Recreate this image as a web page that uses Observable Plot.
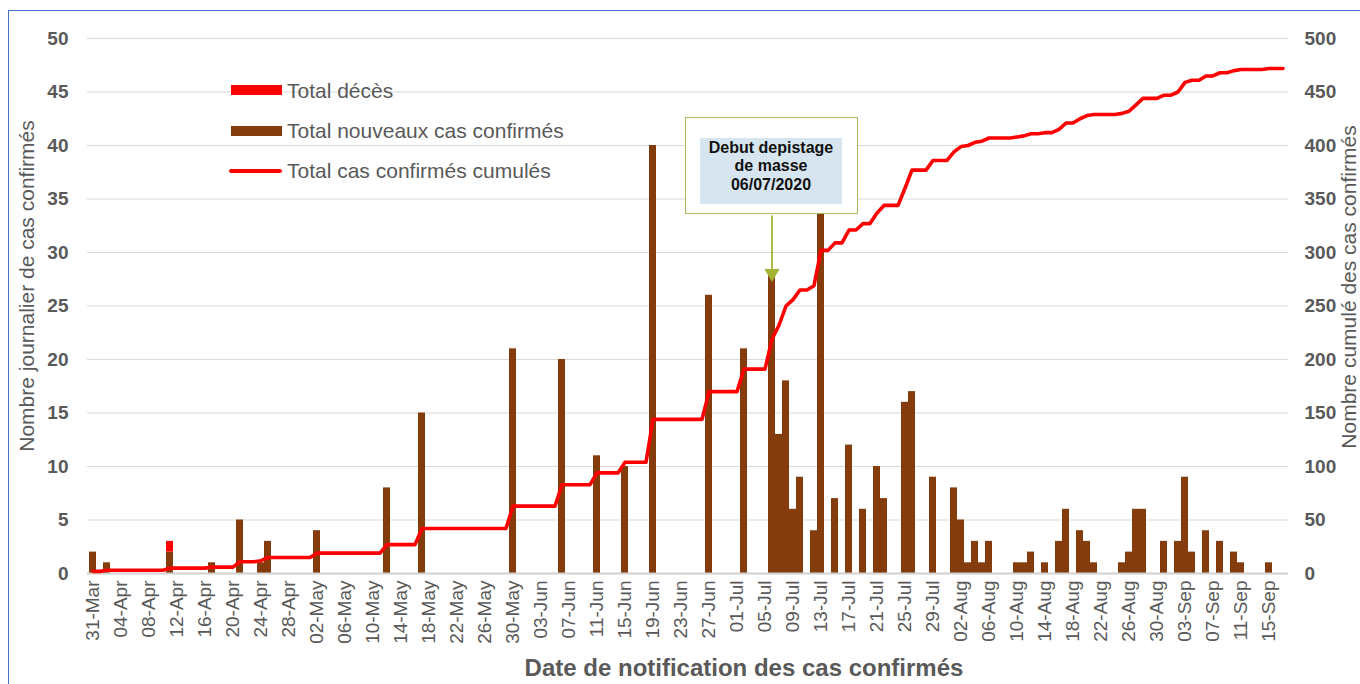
<!DOCTYPE html>
<html><head><meta charset="utf-8">
<script src="https://cdn.jsdelivr.net/npm/d3@7"></script>
<script src="https://cdn.jsdelivr.net/npm/@observablehq/plot@0.6"></script>
<style>
body{margin:0;background:#fff;font-family:"Liberation Sans",Arial,sans-serif;}
#wrap{position:relative;width:1360px;height:684px;overflow:hidden;background:#fff;}
.ov{position:absolute;}
.frame{left:8px;top:10px;width:1400px;height:800px;border-left:1.5px solid #4472c4;border-top:1.5px solid #4472c4;}
.leg{position:absolute;left:287px;font-size:21px;color:#595959;line-height:24px;white-space:nowrap;}
.ytitle{position:absolute;font-size:21px;color:#595959;white-space:nowrap;transform:translate(-50%,-50%) rotate(-90deg);line-height:24px;}
.xtitle{position:absolute;font-size:24px;font-weight:bold;color:#595959;white-space:nowrap;transform:translate(-50%,-50%);}
.box{left:685px;top:117px;width:171px;height:95px;border:1.3px solid #a9bd5e;background:#fff;}
.inner{left:700px;top:137.5px;width:142px;height:66px;background:#d6e5ef;}
.btext{left:700px;top:138.5px;width:142px;text-align:center;font-weight:bold;font-size:16px;line-height:18.5px;color:#111;}
</style></head><body><div id="wrap"></div>
<script>
// ---- Data ----
const startDate = "2020-03-31";
const endDate = "2020-09-18"; // exclusive: last category is 2020-09-17

const caseDates = [
  "2020-03-31","2020-04-02","2020-04-11","2020-04-17","2020-04-21","2020-04-24","2020-04-25",
  "2020-05-02","2020-05-12","2020-05-17","2020-05-30","2020-06-06","2020-06-11","2020-06-15",
  "2020-06-19","2020-06-27","2020-07-02","2020-07-06","2020-07-07","2020-07-08","2020-07-09",
  "2020-07-10","2020-07-12","2020-07-13","2020-07-15","2020-07-17","2020-07-19","2020-07-21",
  "2020-07-22","2020-07-25","2020-07-26","2020-07-29","2020-08-01","2020-08-02","2020-08-03",
  "2020-08-04","2020-08-05","2020-08-06","2020-08-10","2020-08-11","2020-08-12","2020-08-14",
  "2020-08-16","2020-08-17","2020-08-19","2020-08-20","2020-08-21","2020-08-25","2020-08-26",
  "2020-08-27","2020-08-28","2020-08-31","2020-09-02","2020-09-03","2020-09-04","2020-09-06",
  "2020-09-08","2020-09-10","2020-09-11","2020-09-15"
];
const caseCounts = [
  2,1,2,1,5,1,3,
  4,8,15,21,20,11,10,
  40,26,21,28,13,18,6,
  9,4,34,7,12,6,10,
  7,16,17,9,8,5,1,
  3,1,3,1,1,2,1,
  3,6,4,3,1,1,2,
  6,6,3,3,9,2,4,
  3,2,1,1
];
const deathDates = ["2020-04-11"];
const deathCounts = [1];

// cumulative confirmed cases, one value per day from 2020-03-31 to 2020-09-17
const cumulative = [
  2,2,3,3,3,3,3,3,3,3,
  3,5,5,5,5,5,5,6,6,6,
  6,11,11,11,12,15,15,15,15,15,
  15,15,19,19,19,19,19,19,19,19,
  19,19,27,27,27,27,27,42,42,42,
  42,42,42,42,42,42,42,42,42,42,
  63,63,63,63,63,63,63,83,83,83,
  83,83,94,94,94,94,104,104,104,104,
  144,144,144,144,144,144,144,144,170,170,
  170,170,170,191,191,191,191,219,232,250,
  256,265,265,269,302,302,309,309,321,321,
  327,327,337,344,344,344,360,377,377,377,
  386,386,386,394,399,400,403,404,407,407,
  407,407,408,409,411,411,412,412,415,421,
  421,425,428,429,429,429,429,430,432,438,
  444,444,444,447,447,450,459,461,461,465,
  465,468,468,470,471,471,471,471,472,472,
  472
];

const leftTicks = [0,5,10,15,20,25,30,35,40,45,50];
const rightTicks = [0,50,100,150,200,250,300,350,400,450,500];
const seriesNames = ["Total décès","Total nouveaux cas confirmés","Total cas confirmés cumulés"];
const annotationDate = "2020-07-06";
const annotationLines = ["Debut depistage","de masse","06/07/2020"];

// ---- Build ----
const iso = d3.utcFormat("%Y-%m-%d");
const dates = d3.utcDay.range(new Date(startDate), new Date(endDate)).map(iso);
const xTicks = dates.filter((d,i) => i % 4 === 0);
const labelFmt = s => d3.utcFormat("%d-%b")(new Date(s));
const ratio = rightTicks[rightTicks.length-1] / leftTicks[leftTicks.length-1];

const barData = caseDates.map((d,i) => ({date:d, value:caseCounts[i], s:"cases"}))
  .concat(deathDates.map((d,i) => ({date:d, value:deathCounts[i], s:"deaths"})));
const lineData = dates.map((d,i) => ({date:d, value:cumulative[i]}));

const brown = "#843c0c", red = "#ff0000", grey = "#595959", olive = "#a3b434";

const chart = Plot.plot({
  width: 1360, height: 684,
  marginLeft: 87, marginRight: 72, marginTop: 38, marginBottom: 111,
  style: {fontFamily: '"Liberation Sans", Arial, sans-serif', background: "transparent", overflow: "visible"},
  x: {type: "band", domain: dates, paddingInner: 0, paddingOuter: 0},
  y: {domain: [0, 50]},
  color: {domain: ["cases","deaths"], range: [brown, red]},
  marks: [
    Plot.ruleY(leftTicks.slice(1), {stroke: "#d9d9d9", strokeWidth: 1.2}),
    Plot.barY(barData, {x: "date", y: "value", fill: "s"}),
    Plot.ruleY([0], {stroke: "#d0d0d0", strokeWidth: 2}),
    Plot.line(lineData, {x: "date", y: d => d.value / ratio, stroke: red, strokeWidth: 3.6, strokeLinejoin: "round", strokeLinecap: "round"}),
    Plot.ruleX([annotationDate], {x: d => d, y1: 33.4, y2: 28.3, stroke: olive, strokeWidth: 1.8}),
    Plot.dot([annotationDate], {x: d => d, y: 28.05, symbol: "triangle", r: 5.6, fill: olive, rotate: 180, stroke: null}),
    Plot.axisY(leftTicks, {anchor: "left", tickSize: 0, tickPadding: 19, fontSize: 19, fontWeight: "bold", fill: grey, label: null}),
    Plot.axisY(leftTicks, {anchor: "right", tickSize: 0, tickPadding: 16, fontSize: 19, fontWeight: "bold", fill: grey, label: null, tickFormat: d => rightTicks[leftTicks.indexOf(d)]}),
    Plot.axisX(xTicks, {anchor: "bottom", tickSize: 0, tickPadding: 7, tickRotate: -90, fontSize: 19, fill: grey, label: null, tickFormat: labelFmt})
  ]
});

const wrap = document.getElementById("wrap");
wrap.appendChild(chart);

function add(cls, style, html) {
  const el = document.createElement("div");
  el.className = cls;
  Object.assign(el.style, style || {});
  if (html != null) el.innerHTML = html;
  wrap.appendChild(el);
  return el;
}
add("ov frame");
// legend
add("ov", {left:"231px", top:"85px", width:"51px", height:"10px", background:red});
add("ov", {left:"231px", top:"126px", width:"51px", height:"10px", background:brown});
add("ov", {left:"229px", top:"169px", width:"53px", height:"3.6px", background:red, borderRadius:"2px"});
add("leg", {top:"79px"}, seriesNames[0]);
add("leg", {top:"119px"}, seriesNames[1]);
add("leg", {top:"159px"}, seriesNames[2]);
// axis titles
add("ytitle", {left:"27px", top:"286px"}, "Nombre journalier de cas confirmés");
add("ytitle", {left:"1349px", top:"287px"}, "Nombre cumulé des cas confirmés");
add("xtitle", {left:"744px", top:"668px"}, "Date de notification des cas confirmés");
// annotation box
add("ov box");
add("ov inner");
add("ov btext", {}, annotationLines.join("<br>"));
</script></body></html>
